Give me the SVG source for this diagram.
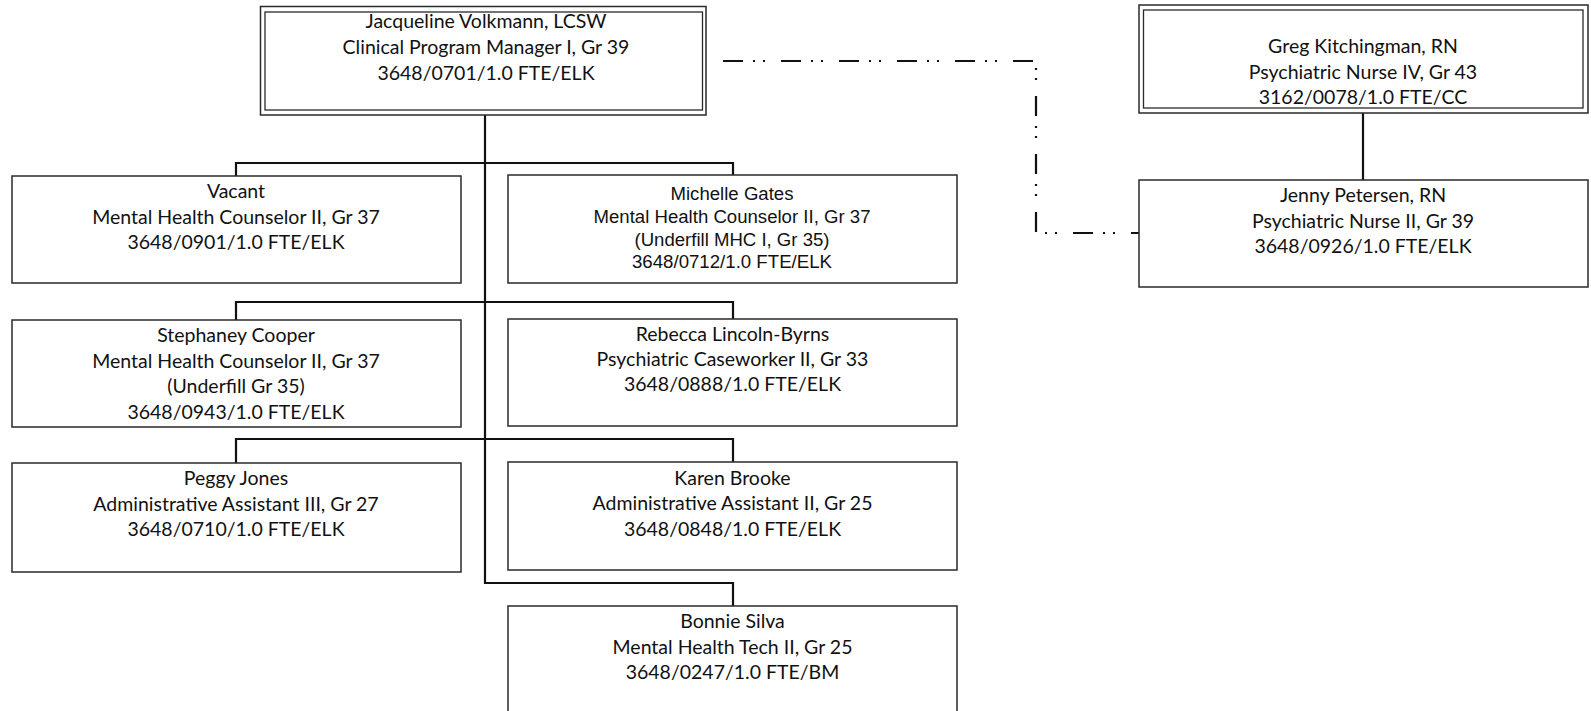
<svg xmlns="http://www.w3.org/2000/svg" width="1591" height="711" viewBox="0 0 1591 711">
<style>
.box{fill:#fff;stroke:#2a2a2a;stroke-width:1.5}
.inner{fill:none;stroke:#2a2a2a;stroke-width:1.3}
.t{font-family:Lato,"Open Sans",sans-serif;font-size:19.5px;fill:#111;text-anchor:middle}
.a{font-family:"Liberation Sans",Arial,sans-serif;font-size:17.5px;fill:#111;text-anchor:middle}
.c{fill:none;stroke:#111;stroke-width:2.2}
.d{fill:none;stroke:#111;stroke-width:2.2;stroke-dasharray:20 10 2 8 2 16}
</style>
<rect width="1591" height="711" fill="#fff"/>
<g id="connectors">
<path class="c" d="M485,115 V583 H733 V606"/>
<path class="c" d="M236,176 V163 H733 V175"/>
<path class="c" d="M236,320 V302 H733 V319"/>
<path class="c" d="M236,463 V439 H733 V462"/>
<path class="c" d="M1363,113 V180"/>
<path class="d" d="M723,61 H1036 V233 H1139"/>
</g>
<g id="n-volkmann">
<rect class="box" x="260.5" y="6.5" width="445.5" height="108.5"/>
<rect class="inner" x="265" y="12" width="437.5" height="98"/>
<text class="t" x="486" y="27.5">Jacqueline Volkmann, LCSW</text>
<text class="t" x="486" y="53.5">Clinical Program Manager I, Gr 39</text>
<text class="t" x="486" y="79.5">3648/0701/1.0 FTE/ELK</text>
</g>
<g id="n-kitchingman">
<rect class="box" x="1139" y="5" width="449" height="108"/>
<rect class="inner" x="1143.5" y="10" width="439.5" height="98"/>
<text class="t" x="1363" y="53">Greg Kitchingman, RN</text>
<text class="t" x="1363" y="78.5">Psychiatric Nurse IV, Gr 43</text>
<text class="t" x="1363" y="104">3162/0078/1.0 FTE/CC</text>
</g>
<g id="n-petersen">
<rect class="box" x="1139" y="180" width="449" height="107"/>
<text class="t" x="1363" y="202">Jenny Petersen, RN</text>
<text class="t" x="1363" y="227.5">Psychiatric Nurse II, Gr 39</text>
<text class="t" x="1363" y="253">3648/0926/1.0 FTE/ELK</text>
</g>
<g id="n-vacant">
<rect class="box" x="12" y="176" width="449" height="107"/>
<text class="t" x="236" y="198">Vacant</text>
<text class="t" x="236" y="223.5">Mental Health Counselor II, Gr 37</text>
<text class="t" x="236" y="249">3648/0901/1.0 FTE/ELK</text>
</g>
<g id="n-gates">
<rect class="box" x="508" y="175" width="449" height="108"/>
<text class="a" x="732" y="200" textLength="123" lengthAdjust="spacingAndGlyphs">Michelle Gates</text>
<text class="a" x="732" y="223" textLength="277" lengthAdjust="spacingAndGlyphs">Mental Health Counselor II, Gr 37</text>
<text class="a" x="732" y="245.5" textLength="195" lengthAdjust="spacingAndGlyphs">(Underfill MHC I, Gr 35)</text>
<text class="a" x="732" y="267.5" textLength="200" lengthAdjust="spacingAndGlyphs">3648/0712/1.0 FTE/ELK</text>
</g>
<g id="n-cooper">
<rect class="box" x="12" y="320" width="449" height="107"/>
<text class="t" x="236" y="342">Stephaney Cooper</text>
<text class="t" x="236" y="367.5">Mental Health Counselor II, Gr 37</text>
<text class="t" x="236" y="393">(Underfill Gr 35)</text>
<text class="t" x="236" y="418.5">3648/0943/1.0 FTE/ELK</text>
</g>
<g id="n-lincoln-byrns">
<rect class="box" x="508" y="319" width="449" height="107"/>
<text class="t" x="732.5" y="340.5">Rebecca Lincoln-Byrns</text>
<text class="t" x="732.5" y="366">Psychiatric Caseworker II, Gr 33</text>
<text class="t" x="732.5" y="391">3648/0888/1.0 FTE/ELK</text>
</g>
<g id="n-jones">
<rect class="box" x="12" y="463" width="449" height="109"/>
<text class="t" x="236" y="484.5">Peggy Jones</text>
<text class="t" x="236" y="510.5">Administrative Assistant III, Gr 27</text>
<text class="t" x="236" y="536">3648/0710/1.0 FTE/ELK</text>
</g>
<g id="n-brooke">
<rect class="box" x="508" y="462" width="449" height="108"/>
<text class="t" x="732.5" y="484.5">Karen Brooke</text>
<text class="t" x="732.5" y="510">Administrative Assistant II, Gr 25</text>
<text class="t" x="732.5" y="535.5">3648/0848/1.0 FTE/ELK</text>
</g>
<g id="n-silva">
<rect class="box" x="508" y="606" width="449" height="120"/>
<text class="t" x="732.5" y="628">Bonnie Silva</text>
<text class="t" x="732.5" y="653.5">Mental Health Tech II, Gr 25</text>
<text class="t" x="732.5" y="679">3648/0247/1.0 FTE/BM</text>
</g>
</svg>
